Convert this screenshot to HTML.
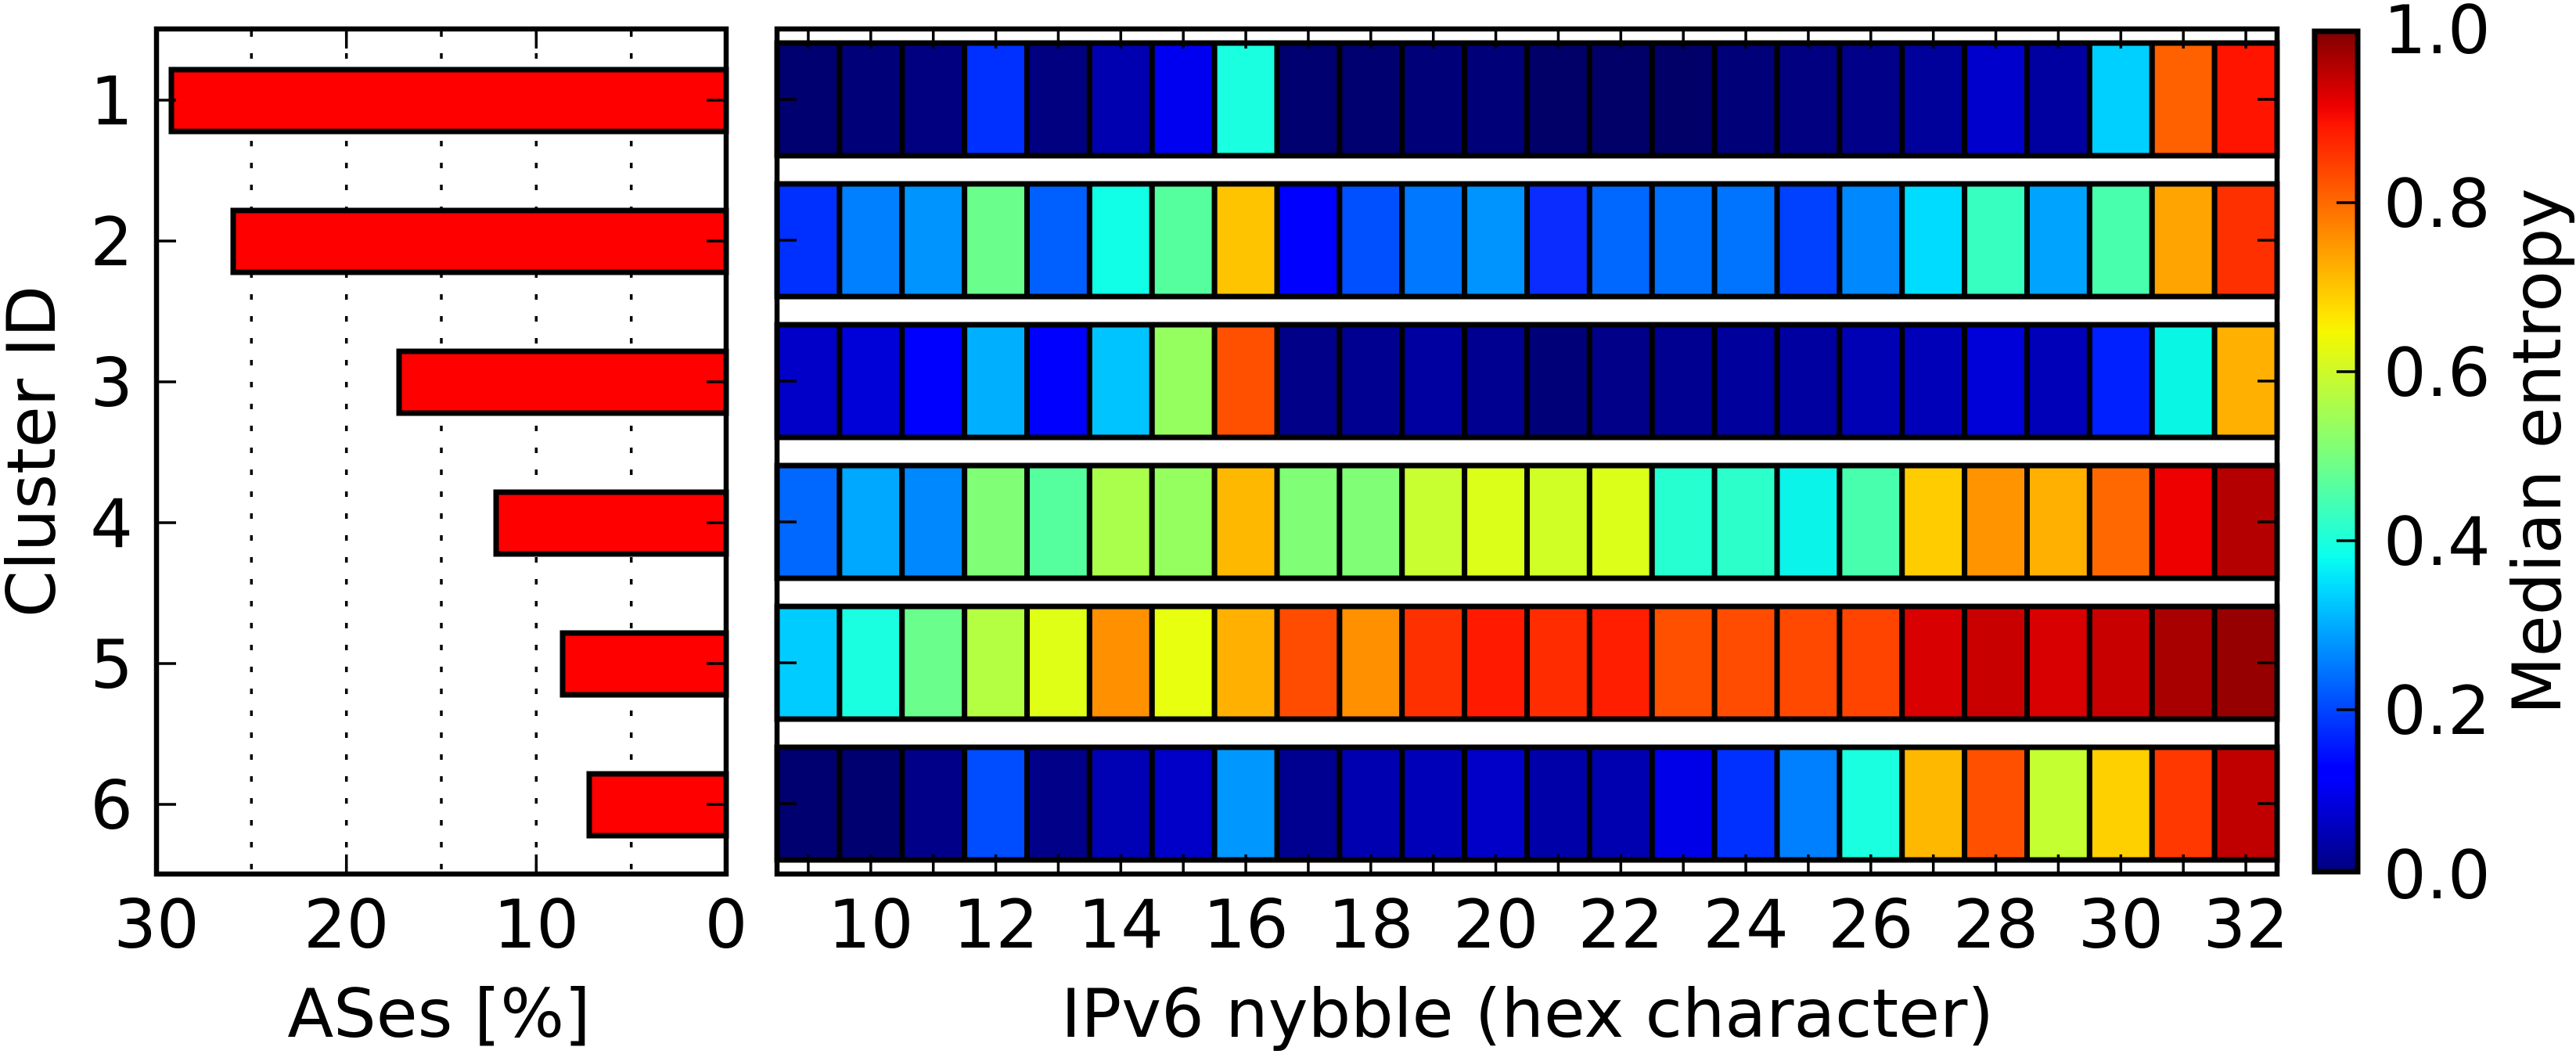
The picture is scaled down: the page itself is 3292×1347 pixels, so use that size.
<!DOCTYPE html>
<html><head><meta charset="utf-8"><style>html,body{margin:0;padding:0;background:#fff}svg{display:block}</style></head>
<body>
<svg xmlns="http://www.w3.org/2000/svg" width="3292" height="1347" viewBox="0 0 3292 1347" font-family="'DejaVu Sans','Liberation Sans',sans-serif">
<defs>
<linearGradient id="jet" x1="0" y1="1" x2="0" y2="0">
<stop offset="0" stop-color="#000080"/><stop offset="0.11" stop-color="#0000ff"/><stop offset="0.125" stop-color="#0000ff"/>
<stop offset="0.34" stop-color="#00dcff"/><stop offset="0.375" stop-color="#0affee"/><stop offset="0.5" stop-color="#7dff7a"/>
<stop offset="0.64" stop-color="#f4f802"/><stop offset="0.66" stop-color="#ffe600"/><stop offset="0.89" stop-color="#ff1300"/>
<stop offset="0.91" stop-color="#ee0000"/><stop offset="1" stop-color="#800000"/>
</linearGradient>
</defs>
<rect width="3292" height="1347" fill="#fff"/>
<!-- Left axes -->
<g stroke="#000" stroke-width="3.5" stroke-dasharray="7 21">
<line x1="321.3" y1="40" x2="321.3" y2="1115"/><line x1="442.7" y1="40" x2="442.7" y2="1115"/>
<line x1="564" y1="40" x2="564" y2="1115"/><line x1="685.3" y1="40" x2="685.3" y2="1115"/>
<line x1="806.7" y1="40" x2="806.7" y2="1115"/>
</g>
<g fill="#ff0000" stroke="#000" stroke-width="7">
<rect x="219" y="89" width="709" height="79"/>
<rect x="298" y="269" width="630" height="79"/>
<rect x="510" y="449" width="418" height="79"/>
<rect x="634" y="629" width="294" height="79"/>
<rect x="719" y="809" width="209" height="79"/>
<rect x="753" y="989" width="175" height="79"/>
</g>
<g stroke="#000" stroke-width="3.5">
<path d="M200 128h25M200 308h25M200 488h25M200 668h25M200 848h25M200 1028h25"/>
<path d="M928 128h-25M928 308h-25M928 488h-25M928 668h-25M928 848h-25M928 1028h-25"/>
<path d="M442.7 37v25M685.3 37v25M442.7 1117v-25M685.3 1117v-25"/>
</g>
<rect x="200" y="37" width="728" height="1080" fill="none" stroke="#000" stroke-width="6.5"/>
<g font-size="86" text-anchor="end">
<text x="170" y="159">1</text><text x="170" y="339">2</text><text x="170" y="519">3</text>
<text x="170" y="699">4</text><text x="170" y="879">5</text><text x="170" y="1059">6</text>
</g>
<g font-size="86" text-anchor="middle">
<text x="200" y="1211">30</text><text x="442.7" y="1211">20</text><text x="685.3" y="1211">10</text><text x="928" y="1211">0</text>
<text x="561" y="1325">ASes [%]</text>
<text x="1952" y="1325">IPv6 nybble (hex character)</text>
<text transform="translate(70,577) rotate(-90)">Cluster ID</text>
<text transform="translate(3272,577) rotate(-90)">Median entropy</text>
</g>
<!-- Heatmap -->
<g id="hm" stroke="#000" stroke-width="7"></g>
<g stroke="#000" stroke-width="3.5" id="hmt"></g>
<rect x="993" y="37" width="1917" height="1080" fill="none" stroke="#000" stroke-width="6.5"/>
<g font-size="86" text-anchor="middle" id="hml"></g>
<!-- Colorbar -->
<rect x="2958" y="40" width="55" height="1074" fill="url(#jet)" stroke="#000" stroke-width="7"/>
<g stroke="#000" stroke-width="3.5">
<path d="M3010 259h-24M3010 475h-24M3010 691h-24M3010 907h-24"/>
</g>
<g font-size="86">
<text x="3046" y="68">1.0</text><text x="3046" y="290">0.8</text><text x="3046" y="506">0.6</text>
<text x="3046" y="722">0.4</text><text x="3046" y="938">0.2</text><text x="3046" y="1148">0.0</text>
</g>
<script>
var C=[
["#000070","#000078","#000080","#0030ff","#000080","#0000b0","#0000f0","#1affe0","#000070","#000070","#000078","#000078","#000068","#000068","#000068","#000078","#000080","#000088","#00009a","#0000cc","#0000a0","#00d0ff","#ff6000","#ff1400"],
["#0030ff","#0080ff","#0094ff","#6aff8c","#0060ff","#10ffe6","#56ff9e","#ffc400","#0000ff","#0050ff","#0078ff","#0094ff","#0a2cff","#0068ff","#0070ff","#0074ff","#0040ff","#0088ff","#00dcff","#36ffc0","#00a4ff","#48ffae","#ffa400","#ff3000"],
["#0000c8","#0000d8","#0000ff","#00b0ff","#0000ff","#00c4ff","#96ff60","#ff5000","#000088","#000090","#0000a0","#000090","#000078","#000088","#000090","#00009c","#0000a0","#0000b4","#0000b8","#0000d8","#0000b8","#0020ff","#0af6e4","#ffb000"],
["#0068ff","#00a8ff","#0088ff","#80ff76","#56ff9e","#aaff4c","#96ff60","#ffb800","#80ff76","#80ff76","#c8ff30","#dcff1a","#d0ff26","#dcff1a","#26ffd0","#2cffca","#0af4ea","#48ffae","#ffcc00","#ff9400","#ffb000","#ff6800","#ee0000","#b40000"],
["#00ccff","#1affe0","#6aff8c","#b4ff42","#e0ff16","#ff9000","#e8ff10","#ffb000","#ff4c00","#ff9000","#ff3000","#ff1a00","#ff2c00","#ff1e00","#ff5000","#ff4c00","#ff4800","#ff4400","#d80000","#c80000","#d80000","#c80000","#a80000","#960000"],
["#000070","#000070","#000088","#004cff","#000088","#0000b4","#0000c8","#0098ff","#000090","#0000b0","#0000b8","#0000c8","#0000a8","#0000b0","#0000e8","#0030ff","#0080ff","#1affe0","#ffb800","#ff5000","#c4ff32","#ffd000","#ff3800","#c00000"]];
var NS="http://www.w3.org/2000/svg",hm=document.getElementById("hm"),t=document.getElementById("hmt"),l=document.getElementById("hml");
var W=1917/24,s="";
for(var r=0;r<6;r++){var cy=127+180*r;for(var c=0;c<24;c++){var e=document.createElementNS(NS,"rect");e.setAttribute("x",993+c*W);e.setAttribute("y",cy-72);e.setAttribute("width",W);e.setAttribute("height",144);e.setAttribute("fill",C[r][c]);hm.appendChild(e);}
s+="M993 "+cy+"h25M2910 "+cy+"h-25";}
for(var c=0;c<24;c++){var x=993+c*W+W/2;s+="M"+x+" 37v25M"+x+" 1117v-25";
if((c+9)%2==0){var tx=document.createElementNS(NS,"text");tx.setAttribute("x",x);tx.setAttribute("y",1211);tx.textContent=String(c+9);l.appendChild(tx);}}
var p=document.createElementNS(NS,"path");p.setAttribute("d",s);t.appendChild(p);
</script>
</svg>
</body></html>
